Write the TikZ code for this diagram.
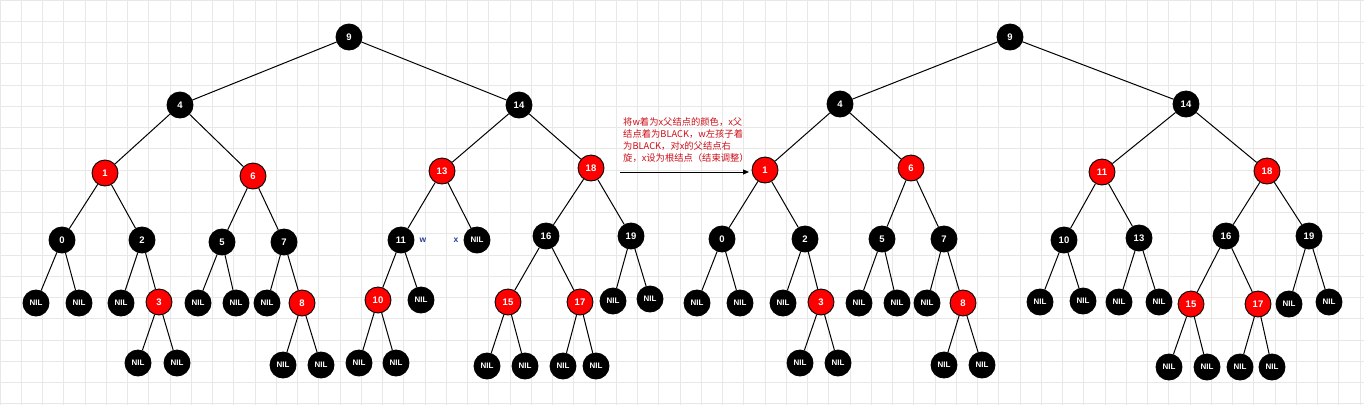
\documentclass[tikz,border=0pt]{standalone}
\usepackage{fontspec}
\setmainfont{Liberation Sans}
\newfontfamily\cjk{Noto Sans CJK SC}
\usetikzlibrary{arrows.meta}
\definecolor{rbred}{RGB}{255,0,0}
\definecolor{notered}{RGB}{205,15,25}
\definecolor{markblue}{RGB}{35,65,150}
\definecolor{gridgray}{RGB}{232,232,232}
\tikzset{
  rbnode/.style   = {circle, draw=black, line width=0.9pt, minimum size=26pt, inner sep=0pt,
                     text=white, font=\bfseries\fontsize{9.5}{10}\selectfont},
  blk/.style      = {rbnode, fill=black},
  rednode/.style  = {rbnode, fill=rbred},
  nil/.style      = {blk, font=\bfseries\fontsize{8}{8}\selectfont},
  link/.style     = {draw=black, line width=1pt},
  tag/.style      = {text=markblue, font=\bfseries\fontsize{8.5}{9}\selectfont, inner sep=0pt},
  note/.style     = {text=notered, font=\cjk\fontsize{9.3}{12}\selectfont, align=left, inner sep=0pt},
  post/.style     = {-{Triangle[length=6pt,width=5pt]}, line width=1pt},
  gridline/.style = {draw=gridgray, line width=0.8pt}
}

\begin{document}
\begin{tikzpicture}[x=1pt,y=-1pt]
  \useasboundingbox (0,0) rectangle (1364,405);
  \fill[white] (0,0) rectangle (1364,405);
  \begin{scope}[y=1pt]
    \draw[gridline, step=21.25] (0,-405) grid (1364,0);
  \end{scope}

  % before
  \node[blk] (l9) at (349,37) {9};
  \node[blk] (l4) at (180,105) {4} edge[link] (l9);
  \node[blk] (l14) at (519,105) {14} edge[link] (l9);
  \node[rednode] (l1) at (105,173) {1} edge[link] (l4);
  \node[rednode] (l6) at (253,176) {6} edge[link] (l4);
  \node[rednode] (l13) at (442,171) {13} edge[link] (l14);
  \node[rednode] (l18) at (591,168) {18} edge[link] (l14);
  \node[blk] (l0) at (62,240) {0} edge[link] (l1);
  \node[blk] (l2) at (142,240) {2} edge[link] (l1);
  \node[blk] (l5) at (222,242) {5} edge[link] (l6);
  \node[blk] (l7) at (284,242) {7} edge[link] (l6);
  \node[blk] (l11) at (401,240) {11} edge[link] (l13);
  \node[nil] (lx) at (477,240) {NIL} edge[link] (l13);
  \node[blk] (l16) at (546,236) {16} edge[link] (l18);
  \node[blk] (l19) at (631,236) {19} edge[link] (l18);
  \node[tag] (lw) at (423,240) {w};
  \node[tag] (lxtag) at (456,240) {x};
  \node[nil] (l0a) at (36,303) {NIL} edge[link] (l0);
  \node[nil] (l0b) at (79,303) {NIL} edge[link] (l0);
  \node[nil] (l2a) at (121,303) {NIL} edge[link] (l2);
  \node[rednode] (l3) at (159,302) {3} edge[link] (l2);
  \node[nil] (l5a) at (198,303) {NIL} edge[link] (l5);
  \node[nil] (l5b) at (236,303) {NIL} edge[link] (l5);
  \node[nil] (l7a) at (267,303) {NIL} edge[link] (l7);
  \node[rednode] (l8) at (302,303) {8} edge[link] (l7);
  \node[nil] (l3a) at (138,363) {NIL} edge[link] (l3);
  \node[nil] (l3b) at (177,363) {NIL} edge[link] (l3);
  \node[nil] (l8a) at (283,365) {NIL} edge[link] (l8);
  \node[nil] (l8b) at (321,365) {NIL} edge[link] (l8);
  \node[rednode] (l10) at (378,300) {10} edge[link] (l11);
  \node[nil] (l11b) at (421,300) {NIL} edge[link] (l11);
  \node[nil] (l10a) at (359,363) {NIL} edge[link] (l10);
  \node[nil] (l10b) at (396,363) {NIL} edge[link] (l10);
  \node[rednode] (l15) at (508,302) {15} edge[link] (l16);
  \node[rednode] (l17) at (580,302) {17} edge[link] (l16);
  \node[nil] (l15a) at (487,366) {NIL} edge[link] (l15);
  \node[nil] (l15b) at (525,366) {NIL} edge[link] (l15);
  \node[nil] (l17a) at (563,366) {NIL} edge[link] (l17);
  \node[nil] (l17b) at (596,366) {NIL} edge[link] (l17);
  \node[nil] (l19a) at (613,301) {NIL} edge[link] (l19);
  \node[nil] (l19b) at (650,299) {NIL} edge[link] (l19);

  % step
  \node[note, anchor=north west] (msg) at (623,117)
    {将w着为x父结点的颜色，x父\\结点着为BLACK，w左孩子着\\为BLACK，对x的父结点右\\旋，x设为根结点（结束调整）};
  \coordinate (arrS) at (620,172);
  \coordinate (arrE) at (749,172);
  \draw[post] (arrS) -- (arrE);

  % after
  \node[blk] (r9) at (1010,37) {9};
  \node[blk] (r4) at (840,104) {4} edge[link] (r9);
  \node[blk] (r14) at (1186,104) {14} edge[link] (r9);
  \node[rednode] (r1) at (765,170) {1} edge[link] (r4);
  \node[rednode] (r6) at (911,168) {6} edge[link] (r4);
  \node[rednode] (r11) at (1102,172) {11} edge[link] (r14);
  \node[rednode] (r18) at (1267,171) {18} edge[link] (r14);
  \node[blk] (r0) at (722,239) {0} edge[link] (r1);
  \node[blk] (r2) at (805,239) {2} edge[link] (r1);
  \node[blk] (r5) at (882,239) {5} edge[link] (r6);
  \node[blk] (r7) at (944,239) {7} edge[link] (r6);
  \node[blk] (r10) at (1064,240) {10} edge[link] (r11);
  \node[blk] (r13) at (1139,238) {13} edge[link] (r11);
  \node[blk] (r16) at (1226,236) {16} edge[link] (r18);
  \node[blk] (r19) at (1309,236) {19} edge[link] (r18);
  \node[nil] (r0a) at (697,303) {NIL} edge[link] (r0);
  \node[nil] (r0b) at (740,303) {NIL} edge[link] (r0);
  \node[nil] (r2a) at (783,303) {NIL} edge[link] (r2);
  \node[rednode] (r3) at (821,302) {3} edge[link] (r2);
  \node[nil] (r5a) at (859,303) {NIL} edge[link] (r5);
  \node[nil] (r5b) at (897,303) {NIL} edge[link] (r5);
  \node[nil] (r7a) at (927,303) {NIL} edge[link] (r7);
  \node[rednode] (r8) at (963,303) {8} edge[link] (r7);
  \node[nil] (r3a) at (800,363) {NIL} edge[link] (r3);
  \node[nil] (r3b) at (838,363) {NIL} edge[link] (r3);
  \node[nil] (r8a) at (944,365) {NIL} edge[link] (r8);
  \node[nil] (r8b) at (982,365) {NIL} edge[link] (r8);
  \node[nil] (r10a) at (1040,302) {NIL} edge[link] (r10);
  \node[nil] (r10b) at (1083,301) {NIL} edge[link] (r10);
  \node[nil] (r13a) at (1119,302) {NIL} edge[link] (r13);
  \node[nil] (r13b) at (1159,302) {NIL} edge[link] (r13);
  \node[rednode] (r15) at (1191,304) {15} edge[link] (r16);
  \node[rednode] (r17) at (1258,304) {17} edge[link] (r16);
  \node[nil] (r15a) at (1169,367) {NIL} edge[link] (r15);
  \node[nil] (r15b) at (1207,367) {NIL} edge[link] (r15);
  \node[nil] (r17a) at (1240,367) {NIL} edge[link] (r17);
  \node[nil] (r17b) at (1272,367) {NIL} edge[link] (r17);
  \node[nil] (r19a) at (1289,304) {NIL} edge[link] (r19);
  \node[nil] (r19b) at (1329,302) {NIL} edge[link] (r19);
\end{tikzpicture}
\end{document}
